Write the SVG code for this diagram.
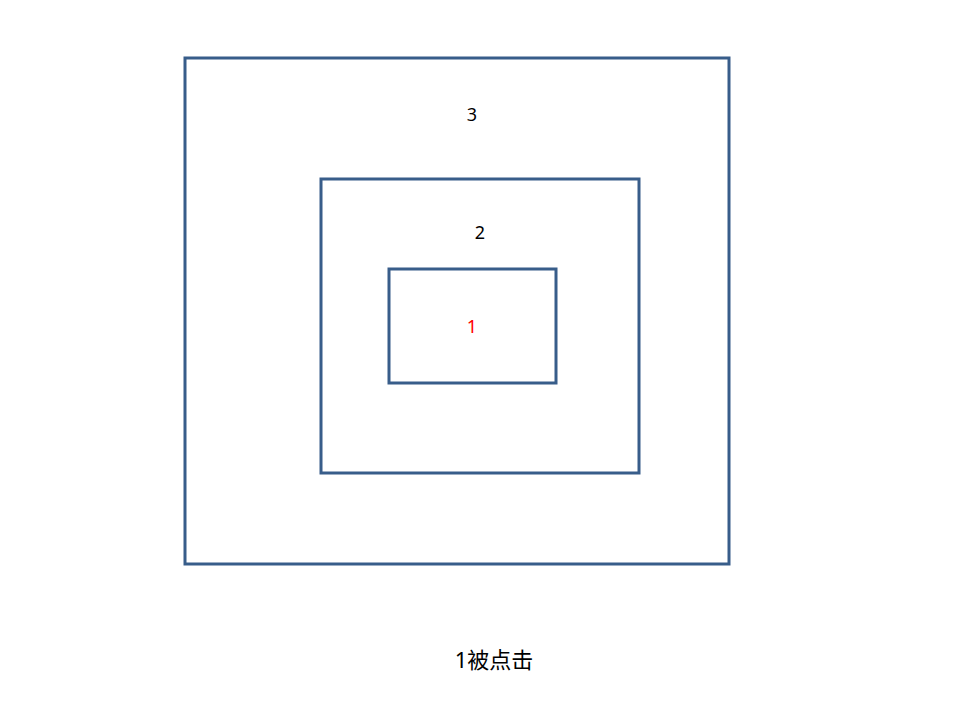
<svg xmlns="http://www.w3.org/2000/svg" width="960" height="720" viewBox="0 0 960 720">
<style>
.box{fill:none;stroke:#385D8A;stroke-width:3}
.t{font-family:"Noto Sans","Noto Sans CJK SC",sans-serif;font-size:18px;text-anchor:middle;fill:#000}
.cap{font-size:22px}
</style>
<rect width="960" height="720" fill="#fff"/>
<g id="box3"><rect class="box" x="185" y="58" width="544" height="506"/><text class="t" x="472" y="121">3</text></g>
<g id="box2"><rect class="box" x="321" y="179" width="318" height="294"/><text class="t" x="480" y="239">2</text></g>
<g id="box1"><rect class="box" x="389" y="269" width="167" height="114"/><text class="t" x="472" y="333" style="fill:#FF0000">1</text></g>
<g id="caption"><text class="t cap" x="494" y="668">1被点击</text></g>
<g id="connectors"></g>
</svg>
